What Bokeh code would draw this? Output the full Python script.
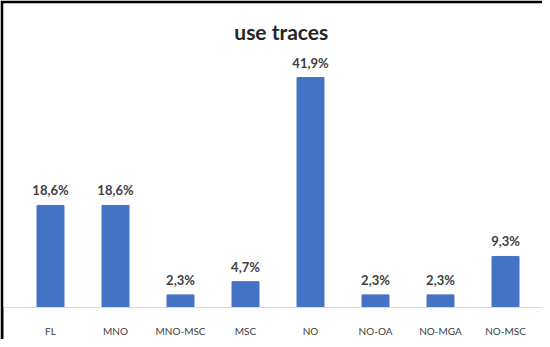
from bokeh.plotting import figure
from bokeh.models import ColumnDataSource, Range1d, FixedTicker, Label
from bokeh.core.properties import value
from bokeh.embed import file_html
from bokeh.resources import INLINE

categories = ["FL", "MNO", "MNO-MSC", "MSC", "NO", "NO-OA", "NO-MGA", "NO-MSC"]
values = [18.6, 18.6, 2.3, 4.7, 41.9, 2.3, 2.3, 9.3]
labels = ["18,6%", "18,6%", "2,3%", "4,7%", "41,9%", "2,3%", "2,3%", "9,3%"]
title_text = "use traces"

positions = list(range(len(categories)))
src = ColumnDataSource(dict(x=positions, val=values, lab=labels))

p = figure(width=542, height=339, output_backend="svg", toolbar_location=None,
           x_range=Range1d(-0.723, 7.569), y_range=Range1d(0, 55.4),
           y_axis_location=None,
           min_border_left=3, min_border_right=0, min_border_top=3, min_border_bottom=32,
           border_fill_color="#000000", background_fill_color="#ffffff")

p.vbar(x="x", top="val", width=0.415, source=src, color="#4472C4")
p.text(x="x", y="val", text="lab", source=src, text_align="center",
       text_baseline="bottom", y_offset=-7, text_font=value("Lato"),
       text_font_size="13px", text_font_style="bold", text_color="#404040")

title = Label(x=3.55, y=50.3, text=title_text, text_align="center", text_baseline="middle",
              text_font="Lato", text_font_size="21px", text_font_style="bold",
              text_color="#262626")
p.add_layout(title)

p.xgrid.grid_line_color = None
p.ygrid.grid_line_color = None
p.outline_line_color = None
p.xaxis.ticker = FixedTicker(ticks=positions)
p.xaxis.major_label_overrides = {i: c for i, c in zip(positions, categories)}
p.xaxis.bounds = (-0.43, 7.5)
p.xaxis.background_fill_color = "#ffffff"
p.xaxis.axis_line_color = "#d9d9d9"
p.xaxis.major_tick_line_color = None
p.xaxis.minor_tick_line_color = None
p.xaxis.major_label_text_font = "Lato"
p.xaxis.major_label_text_font_size = "10px"
p.xaxis.major_label_text_color = "#404040"
p.xaxis.major_label_standoff = 11

open("out.html", "w").write(file_html(p, INLINE))
